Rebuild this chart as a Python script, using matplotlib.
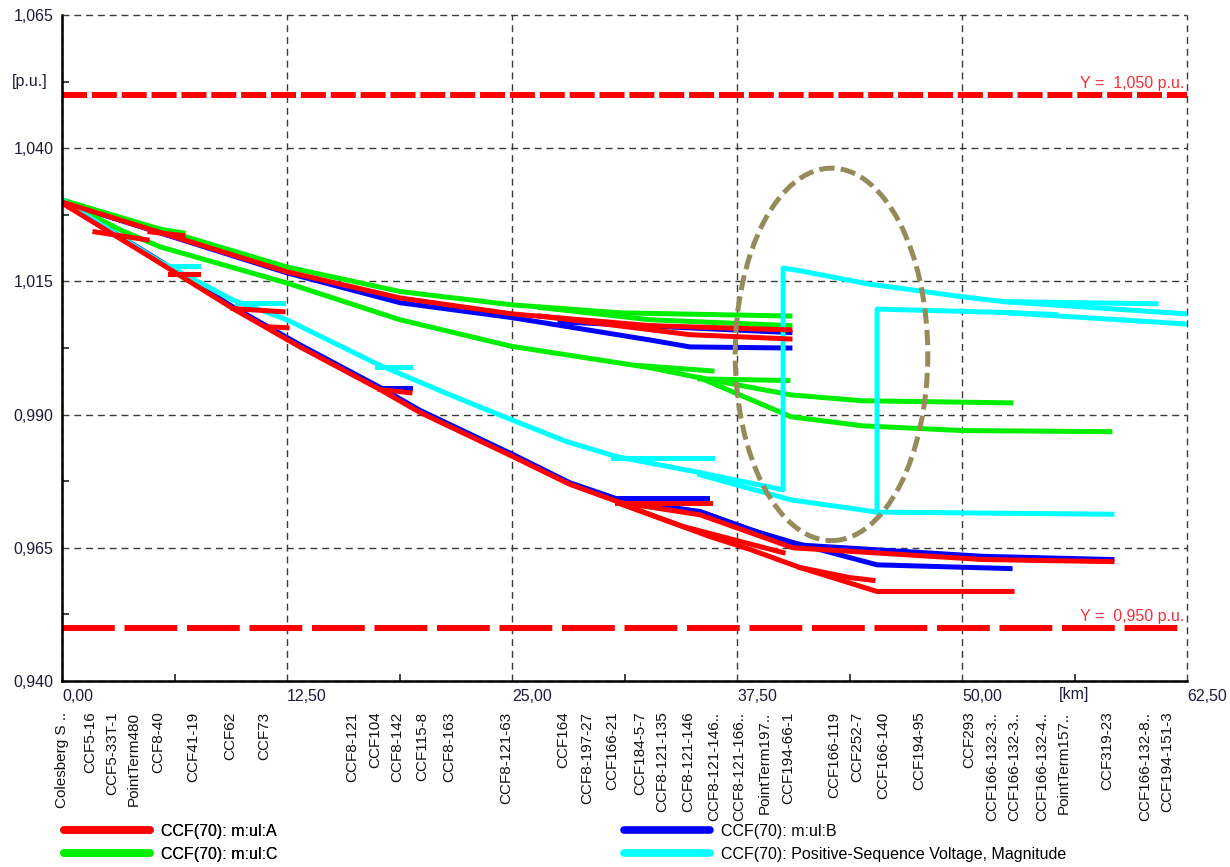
import matplotlib
matplotlib.use('Agg')
import matplotlib.pyplot as plt
from matplotlib.patches import Ellipse
from matplotlib.lines import Line2D
from matplotlib.ticker import FixedLocator, MultipleLocator, FuncFormatter

plt.rcParams['font.family'] = ['Liberation Sans', 'DejaVu Sans']
plt.rcParams['lines.scale_dashes'] = False

# voltage profile along the feeder: each branch is (distance [km], voltage [p.u.])
phase_a = [
    ([0, 12.5, 18.78, 25, 32.67, 40.44], [1.0299, 1.0168, 1.0119, 1.0089, 1.0067, 1.0059]),
    ([26.56, 34.89, 40.44], [1.0085, 1.0050, 1.0042]),
    ([1.83, 4.72], [1.0243, 1.0228]),
    ([4.89, 6.72], [1.0243, 1.0236]),
    ([0, 4.89, 9.5, 13.22, 17.67, 19.89, 25.06, 28.22, 31],
     [1.0297, 1.0196, 1.0099, 1.0027, 0.9947, 0.9904, 0.9821, 0.9769, 0.9735]),
    ([6, 7.56], [1.0164, 1.0164]),
    ([9.5, 12.28], [1.0099, 1.0093]),
    ([11.39, 12.5], [1.0065, 1.0063]),
    ([17.67, 19.33], [0.9947, 0.9941]),
    ([30.83, 36], [0.9735, 0.9735]),
    ([31, 35.44, 40.61, 51.17, 58.33], [0.9735, 0.9712, 0.9650, 0.9628, 0.9624]),
    ([31, 34.5, 40.06], [0.9733, 0.9690, 0.9641]),
    ([31, 36, 38.22, 41, 45.28, 52.78], [0.9733, 0.9671, 0.9647, 0.9613, 0.9568, 0.9568]),
    ([41, 43.78, 45.06], [0.9613, 0.9594, 0.9589]),
]
phase_b = [
    ([0, 12.5, 18.78, 25, 32.67, 34.89, 40.44], [1.0299, 1.0166, 1.0110, 1.0082, 1.0040, 1.0027, 1.0025]),
    ([27.67, 40.44], [1.0074, 1.0054]),
    ([0, 4.89, 9.5, 13.22, 17.67, 19.89, 25.06, 28.22, 31],
     [1.0301, 1.0200, 1.0102, 1.0031, 0.9951, 0.9908, 0.9825, 0.9772, 0.9740]),
    ([17.67, 19.33], [0.9950, 0.9950]),
    ([30.83, 35.83], [0.9744, 0.9744]),
    ([31, 35.44, 38.22, 40.61, 45.28, 52.67], [0.9740, 0.9718, 0.9684, 0.9660, 0.9618, 0.9611]),
    ([35.44, 40.61, 51.17, 58.33], [0.9718, 0.9656, 0.9634, 0.9628]),
]
phase_c = [
    ([0, 12.5, 18.78, 25, 31, 40.44], [1.0303, 1.0177, 1.0131, 1.0106, 1.0091, 1.0085]),
    ([26.56, 32.67, 40.44], [1.0101, 1.0078, 1.0067]),
    ([4.33, 6.72], [1.0254, 1.0241]),
    ([0, 3.22, 5.44, 12.5, 18.78, 25, 32.67, 35.44],
     [1.0303, 1.0247, 1.0215, 1.0147, 1.0078, 1.0028, 0.9988, 0.9969]),
    ([32.11, 36.11], [0.9992, 0.9982]),
    ([35.44, 40.5, 44.44, 52.72], [0.9969, 0.9937, 0.9926, 0.9922]),
    ([35.44, 40.5, 44.44, 50.06, 58.22], [0.9969, 0.9896, 0.9879, 0.9870, 0.9868]),
    ([35.44, 40.33], [0.9967, 0.9964]),
]
pos_seq = [
    ([0, 3.22, 5.44, 9.5, 12.5, 17.5, 21.56, 25, 28.06, 30.83, 35.44],
     [1.0303, 1.0234, 1.0187, 1.0115, 1.0078, 0.9995, 0.9937, 0.9890, 0.9849, 0.9821, 0.9791]),
    ([5.83, 7.56], [1.0178, 1.0178]),
    ([9.72, 12.28], [1.0110, 1.0110]),
    ([17.5, 19.33], [0.9990, 0.9990]),
    ([30.61, 36.11], [0.9819, 0.9819]),
    ([35.44, 40.06, 40.06, 41, 44.83, 50.06, 52.33, 60.78],
     [0.9791, 0.9759, 1.0175, 1.0170, 1.0145, 1.0121, 1.0112, 1.0108]),
    ([52.33, 62.5], [1.0112, 1.0089]),
    ([35.44, 40.5, 45.28, 58.33], [0.9787, 0.9740, 0.9717, 0.9713]),
    ([45.28, 45.28, 52.11, 62.5], [0.9717, 1.0098, 1.0092, 1.0070]),
    ([52.11, 55.17], [1.0092, 1.0088]),
]

series_names = ['CCF(70): m:ul:A', 'CCF(70): m:ul:B', 'CCF(70): m:ul:C',
                'CCF(70): Positive-Sequence Voltage, Magnitude']
upper_limit = 1.050
lower_limit = 0.950

node_km = [0.0, 1.56, 2.78, 4.0, 5.33, 7.28, 9.33, 11.22, 16.11, 17.39, 18.61, 20.0, 21.5,
           24.67, 27.83, 29.17, 30.56, 32.11, 33.33, 34.78, 36.22, 37.61, 39.06, 40.33,
           42.89, 44.17, 45.61, 47.61, 50.39, 51.67, 52.89, 54.44, 55.67, 58.06, 60.17, 61.39]
node_names = ['Colesberg S ..', 'CCF5-16', 'CCF5-33T-1', 'PointTerm480', 'CCF8-40', 'CCF41-19',
              'CCF62', 'CCF73', 'CCF8-121', 'CCF104', 'CCF8-142', 'CCF115-8', 'CCF8-163',
              'CCF8-121-63', 'CCF164', 'CCF8-197-27', 'CCF166-21', 'CCF184-5-7', 'CCF8-121-135',
              'CCF8-121-146', 'CCF8-121-146..', 'CCF8-121-166..', 'PointTerm197..', 'CCF194-66-1',
              'CCF166-119', 'CCF252-7', 'CCF166-140', 'CCF194-95', 'CCF293', 'CCF166-132-3..',
              'CCF166-132-3..', 'CCF166-132-4..', 'PointTerm157..', 'CCF319-23', 'CCF166-132-8..',
              'CCF194-151-3']

x_ticks = [0, 12.5, 25, 37.5, 50, 62.5]
y_ticks = [0.940, 0.965, 0.990, 1.015, 1.040, 1.065]
y_minor = [0.9525, 0.9775, 1.0025, 1.0275, 1.0525]

fig = plt.figure(figsize=(12.3, 8.67), dpi=100)
ax = fig.add_axes([62 / 1230, 1 - 681 / 867, 1125 / 1230, 666 / 867])

colors = ['#ff0000', '#0000ff', '#00ee00', '#00ffff']
zorders = [5, 2, 3, 4]
for branches, col, z in zip([phase_a, phase_b, phase_c, pos_seq], colors, zorders):
    for km, pu in branches:
        ax.plot(km, pu, color=col, lw=3.6, zorder=z, solid_joinstyle='round')

# limit lines
ax.axhline(upper_limit, color='#ff0000', lw=4.3, linestyle=(0, (18, 3.5)), zorder=6)
ax.axhline(lower_limit, color='#ff0000', lw=4.3, linestyle=(0, (38, 7)), zorder=6)
for lim in [upper_limit, lower_limit]:
    ax.annotate('Y =  ' + f'{lim:.3f}'.replace('.', ',') + ' p.u.', xy=(1, lim),
                xycoords=('axes fraction', 'data'), xytext=(-2, 3), textcoords='offset points',
                ha='right', va='bottom', color='#f0303c', fontsize=11.5, zorder=7)

# highlight of the jump region
ax.add_patch(Ellipse((42.75, 1.0013), 10.7, 0.0699, fill=False, edgecolor='#958b5b',
                     lw=3.6, linestyle=(0, (11, 4.5)), zorder=8))

ax.set_xlim(0, 62.5)
ax.set_ylim(0.940, 1.065)
ax.xaxis.set_major_locator(FixedLocator(x_ticks))
ax.xaxis.set_minor_locator(MultipleLocator(6.25))
ax.yaxis.set_major_locator(FixedLocator(y_ticks))
ax.yaxis.set_minor_locator(FixedLocator(y_minor))
ax.xaxis.set_major_formatter(FuncFormatter(lambda v, p: f'{v:.2f}'.replace('.', ',')))
ax.yaxis.set_major_formatter(FuncFormatter(lambda v, p: f'{v:.3f}'.replace('.', ',')))
ax.tick_params(which='major', length=0, labelsize=11.5, labelcolor='#1c1c38')
ax.tick_params(axis='y', which='major', pad=6)
ax.tick_params(axis='x', which='major', pad=6)
ax.tick_params(which='minor', direction='in', length=5, width=1.2, color='#222222')
for lab in ax.get_xticklabels():
    lab.set_horizontalalignment('left')
ax.grid(True, which='major', color='#3a3a3a', lw=1.0, linestyle=(0, (5, 3.5)))
for gl in ax.get_xgridlines() + ax.get_ygridlines():
    gl.set_clip_on(False)
for s in ['top', 'right']:
    ax.spines[s].set_visible(False)
for s in ['left', 'bottom']:
    ax.spines[s].set_linewidth(1.8)
    ax.spines[s].set_color('black')
    ax.spines[s].set_zorder(9)

ax.annotate('[p.u.]', xy=(0, 1.0525), xycoords=('axes fraction', 'data'), xytext=(-10, 0),
            textcoords='offset points', ha='right', va='center', fontsize=11.5, color='#1c1c38')
ax.annotate('[km]', xy=(56.25, 0), xycoords=('data', 'axes fraction'), xytext=(0, -4.5),
            textcoords='offset points', ha='center', va='top', fontsize=11.5, color='#1c1c38')

for km, name in zip(node_km, node_names):
    ax.annotate(name, xy=(km, 0), xycoords=('data', 'axes fraction'), xytext=(0, -22),
                textcoords='offset points', rotation=90, ha='center', va='top',
                fontsize=11, color='#111111', annotation_clip=False)

handles = [Line2D([], [], color=c, lw=5.5, solid_capstyle='round') for c in colors]
leg_kw = dict(loc='upper left', frameon=False, fontsize=11.5, handlelength=5.4,
              handletextpad=0.7, labelspacing=0.5, borderpad=0, borderaxespad=0)
leg1 = fig.legend([handles[0], handles[2]], [series_names[0], series_names[2]],
                  bbox_to_anchor=(64 / 1230, 1 - 824 / 867), **leg_kw)
leg2 = fig.legend([handles[1], handles[3]], [series_names[1], series_names[3]],
                  bbox_to_anchor=(624 / 1230, 1 - 824 / 867), **leg_kw)
fig.add_artist(leg1)

fig.savefig('out.png', dpi=100)
